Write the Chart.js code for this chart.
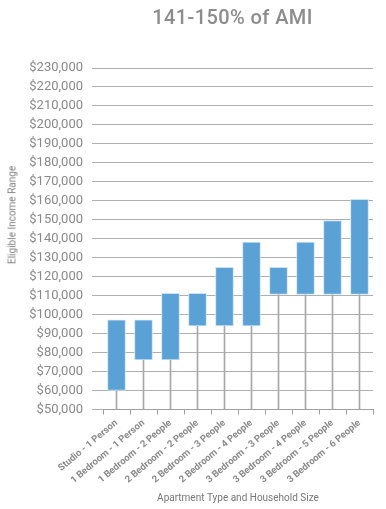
<!DOCTYPE html>
<html lang="en">
<head>
<meta charset="UTF-8">
<title>141-150% of AMI</title>
<script src="https://cdn.jsdelivr.net/npm/chart.js"></script>
<style>
    html, body { margin: 0; padding: 0; background: #fff; }
    #wrap { position: relative; width: 386px; height: 509px; }
    #title {
        position: absolute; top: 5px; left: 92px; width: 281px;
        text-align: center; font-family: Roboto, sans-serif; font-weight: 500;
        font-size: 20px; color: #8c8c8c; letter-spacing: 0.4px;
    }
    #ytitle {
        position: absolute; left: 12px; top: 215px; width: 0; height: 0;
    }
    #ytitle span {
        position: absolute; white-space: nowrap; transform: translate(-50%, -50%) rotate(-90deg);
        font-family: Roboto, sans-serif; font-size: 10px; color: #808080;
    }
</style>
</head>
<body>
<div id="wrap">
    <div id="title">141-150% of AMI</div>
    <div id="ytitle"><span>Eligible Income Range</span></div>
    <canvas id="chart" width="386" height="509"></canvas>
</div>
<script>
    // apartment types and the eligible income range for each
    const categories = [
        'Studio - 1 Person', '1 Bedroom - 1 Person', '1 Bedroom - 2 People',
        '2 Bedroom - 2 People', '2 Bedroom - 3 People', '2 Bedroom - 4 People',
        '3 Bedroom - 3 People', '3 Bedroom - 4 People', '3 Bedroom - 5 People',
        '3 Bedroom - 6 People'
    ];
    const lowIncome  = [60000, 76100, 76100, 94000, 94000, 94000, 110700, 110700, 110700, 110700];
    const highIncome = [97300, 97300, 111200, 111200, 125000, 138300, 125000, 138300, 149600, 160800];
    const axisMin = 50000, axisMax = 230000, axisStep = 10000;

    const ranges = categories.map((c, i) => [lowIncome[i], highIncome[i]]);
    const stems = categories.map((c, i) => [axisMin, lowIncome[i]]);

    const grey = '#8a8a8a';

    new Chart(document.getElementById('chart'), {
        type: 'bar',
        data: {
            labels: categories,
            datasets: [
                {
                    label: 'Income range',
                    data: ranges,
                    backgroundColor: '#5aa1d5',
                    borderColor: '#cbe2f3',
                    borderWidth: 1,
                    borderSkipped: false,
                    barThickness: 18,
                    order: 1
                },
                {
                    label: 'stem',
                    data: stems,
                    backgroundColor: '#a8a8a8',
                    borderWidth: 0,
                    barThickness: 1,
                    order: 2
                }
            ]
        },
        options: {
            responsive: false,
            animation: false,
            grouped: false,
            layout: { padding: { left: 4, right: 13, top: 68, bottom: 5 } },
            plugins: {
                legend: { display: false },
                tooltip: { enabled: false }
            },
            scales: {
                x: {
                    offset: true,
                    afterFit: (scale) => { scale.height = 94.5; },
                    grid: { drawOnChartArea: false, tickLength: 5, color: '#a0a0a0' },
                    border: { color: '#a0a0a0' },
                    ticks: {
                        minRotation: 40, maxRotation: 40, padding: 3,
                        color: grey,
                        font: { family: 'Roboto', size: 9.5, weight: 'bold' }
                    },
                    title: {
                        display: true, text: 'Apartment Type and Household Size',
                        color: '#777', padding: { top: 8, bottom: 0 },
                        font: { family: 'Roboto', size: 10 }
                    }
                },
                y: {
                    min: axisMin, max: axisMax,
                    afterFit: (scale) => { scale.width = 99; },
                    grid: { color: '#b0b0b0', tickLength: 11 },
                    border: { display: false },
                    ticks: {
                        stepSize: axisStep, padding: 9, color: grey,
                        font: { family: 'Roboto', size: 13 },
                        callback: (v) => '$' + v.toLocaleString('en-US')
                    }
                }
            }
        }
    });
</script>
</body>
</html>
